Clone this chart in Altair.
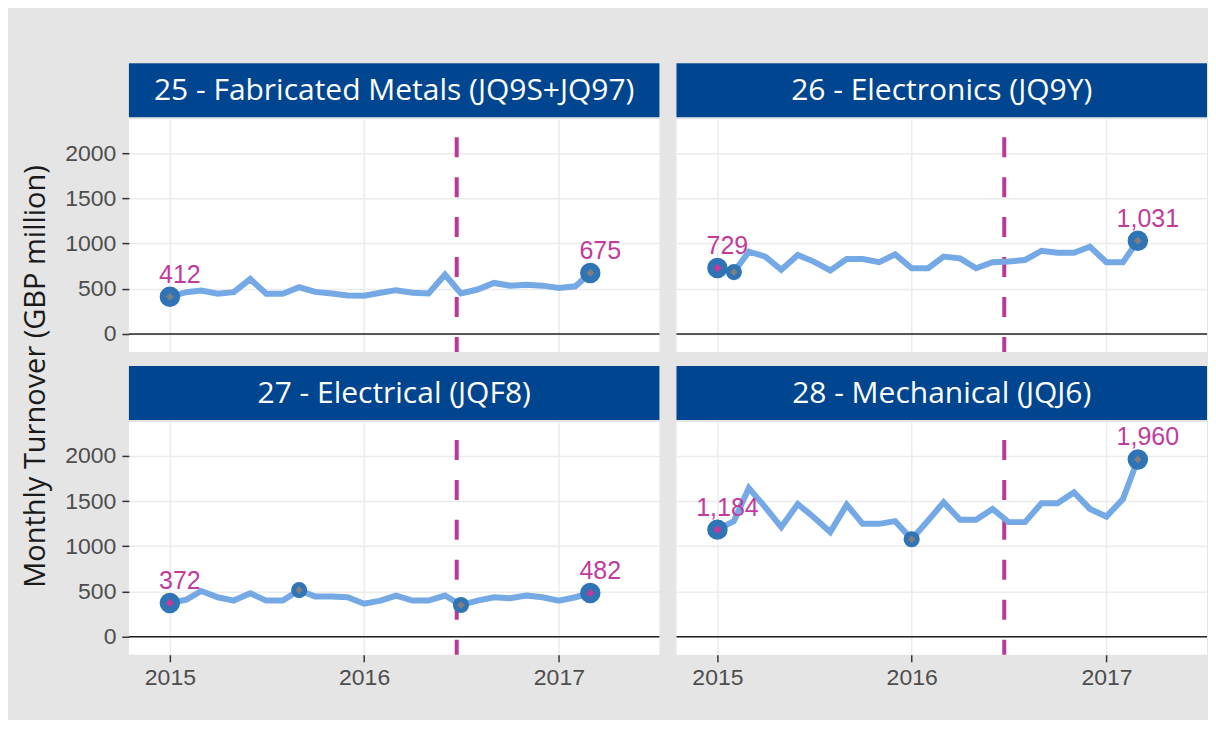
import altair as alt
import pandas as pd

# ---------------- data ----------------
months = pd.date_range("2015-01-01", "2017-03-01", freq="MS").strftime("%Y-%m-%d").tolist()

panel_titles = [
    "25 - Fabricated Metals (JQ9S+JQ97)",
    "26 - Electronics (JQ9Y)",
    "27 - Electrical (JQF8)",
    "28 - Mechanical (JQJ6)",
]

metals = [412, 462, 480, 444, 462, 607, 444, 444, 516, 465, 447, 425, 422, 455,
          484, 455, 447, 655, 447, 491, 564, 534, 545, 534, 509, 527, 675]
electronics = [729, 684, 909, 855, 709, 873, 800, 702, 829, 829, 793, 880, 727, 727,
               855, 836, 727, 793, 800, 818, 920, 898, 898, 964, 793, 793, 1031]
electrical = [372, 410, 505, 436, 399, 481, 399, 399, 515, 444, 444, 436, 365, 399,
              455, 399, 399, 455, 350, 399, 436, 425, 455, 436, 399, 436, 482]
mechanical = [1184, 1278, 1643, 1431, 1212, 1467, 1321, 1157, 1460, 1248, 1248, 1278, 1077, 1285,
              1486, 1292, 1292, 1413, 1267, 1267, 1475, 1475, 1595, 1413, 1329, 1522, 1960]

series = [metals, electronics, electrical, mechanical]

referendum_date = "2016-06-23"
y_ticks = [0, 500, 1000, 1500, 2000]
year_ticks = [2015, 2016, 2017]

# ---------------- styles ----------------
STRIP = "#00458f"
LINE = "#74a9e6"
POINT = "#2f74b5"
MAGENTA = "#bf3b9c"
GREY_C = "#7f7f7f"
W, H, SH = 531, 233, 54

x_scale = alt.Scale(domain=[alt.DateTime(year=2014, month=10, date=16),
                            alt.DateTime(year=2017, month=7, date=9)])
y_scale = alt.Scale(domain=[-200, 2375], nice=False, zero=False)
year_vals = [alt.DateTime(year=y, month=1, date=1) for y in year_ticks]


def strip(title):
    d = pd.DataFrame({"t": [title]})
    rect = alt.Chart(d).mark_rect(color=STRIP).encode(
        x=alt.value(0), x2=alt.value(W), y=alt.value(0), y2=alt.value(SH))
    txt = alt.Chart(d).mark_text(color="white", fontSize=30, font="Open Sans").encode(
        x=alt.value(W / 2), y=alt.value(SH / 2 + 1), text="t:N")
    return (rect + txt).properties(width=W, height=SH)


def plot(i, show_x, show_y):
    vals = series[i]
    df = pd.DataFrame({"date": months, "value": vals})
    ends = df.iloc[[0, len(df) - 1]]
    ext = df.iloc[[int(df["value"].idxmin()), int(df["value"].idxmax())]]

    if show_x:
        xa = alt.Axis(values=year_vals, format="%Y", title=None, domain=False,
                      labelFontSize=23, labelFont="Liberation Sans", labelColor="#4d4d4d",
                      tickColor="#333333", tickSize=7, tickWidth=1.5, labelPadding=5,
                      grid=True, gridColor="#ebebeb", gridWidth=1.5)
    else:
        xa = alt.Axis(values=year_vals, labels=False, ticks=False, domain=False, title=None,
                      grid=True, gridColor="#ebebeb", gridWidth=1.5, minExtent=0, maxExtent=0)
    if show_y:
        ya = alt.Axis(values=y_ticks, format="d", title=None, domain=False,
                      labelFontSize=23, labelFont="Liberation Sans", labelColor="#4d4d4d",
                      tickColor="#333333", tickSize=7, tickWidth=1.5, labelPadding=6,
                      grid=True, gridColor="#ebebeb", gridWidth=1.5)
    else:
        ya = alt.Axis(values=y_ticks, labels=False, ticks=False, domain=False, title=None,
                      grid=True, gridColor="#ebebeb", gridWidth=1.5, minExtent=0, maxExtent=0)

    X = alt.X("date:T", scale=x_scale, axis=xa)
    Y = alt.Y("value:Q", scale=y_scale, axis=ya)

    zero = alt.Chart(pd.DataFrame({"value": [0]})).mark_rule(
        color="#222222", strokeWidth=1.5).encode(y=alt.Y("value:Q", scale=y_scale, axis=ya))
    vline = alt.Chart(pd.DataFrame({"date": [referendum_date]})).mark_rule(
        color="#b73b96", strokeWidth=4, strokeDash=[20, 20], strokeDashOffset=22).encode(x=X)
    line = alt.Chart(df).mark_line(color=LINE, strokeWidth=6).encode(x=X, y=Y)
    big = alt.Chart(ends).mark_circle(size=420, color=POINT, opacity=1).encode(x=X, y=Y)
    big_c = alt.Chart(ends).mark_point(shape="diamond", filled=True, size=70,
                                       color=MAGENTA, opacity=1).encode(x=X, y=Y)
    small = alt.Chart(ext).mark_circle(size=260, color=POINT, opacity=1).encode(x=X, y=Y)
    small_c = alt.Chart(ext).mark_point(shape="diamond", filled=True, size=60,
                                        color=GREY_C, opacity=1).encode(x=X, y=Y)
    labels = alt.Chart(ends).mark_text(color=MAGENTA, fontSize=25, font="Liberation Sans",
                                       dx=10, dy=-14, baseline="alphabetic").encode(
        x=X, y=Y, text=alt.Text("value:Q", format=","))

    return alt.layer(zero, vline, line, big, big_c, small, small_c, labels).properties(
        width=W, height=H)


def panel(i, show_x, show_y):
    return alt.vconcat(strip(panel_titles[i]), plot(i, show_x, show_y), spacing=0)


row1 = alt.hconcat(panel(0, False, True), panel(1, False, False), spacing=15)
row2 = alt.hconcat(panel(2, True, True), panel(3, True, False), spacing=15)

chart = alt.vconcat(row1, row2, spacing=12).properties(
    title=alt.TitleParams("Monthly Turnover (GBP million)", orient="left", anchor="middle",
                          fontSize=29, font="Open Sans", fontWeight="normal",
                          color="#1a1a1a", offset=14),
    padding={"left": 13, "top": 55, "right": 0, "bottom": 30},
).configure(background="#e5e5e5").configure_view(stroke=None, fill="white")

chart.save("out.html", embed_options={"renderer": "svg", "actions": False})
